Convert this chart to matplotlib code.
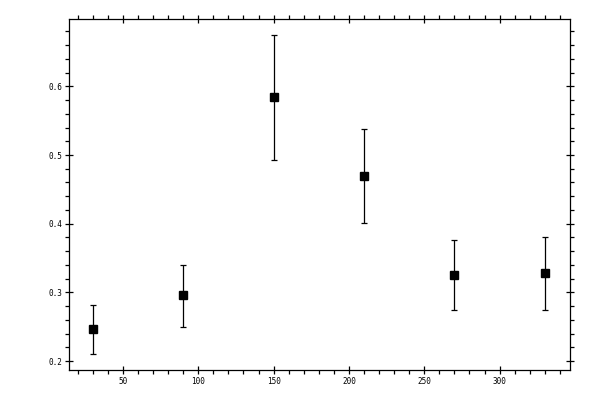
import matplotlib as mpl
mpl.use("Agg")
import matplotlib.pyplot as plt
from matplotlib.ticker import MultipleLocator

# values
x_vals = [30, 90, 150, 210, 270, 330]
y_vals = [0.246, 0.296, 0.584, 0.469, 0.325, 0.328]
y_top = [0.281, 0.340, 0.675, 0.538, 0.376, 0.380]
y_bot = [0.211, 0.249, 0.493, 0.401, 0.274, 0.275]

err_lo = [y - b for y, b in zip(y_vals, y_bot)]
err_hi = [t - y for y, t in zip(y_vals, y_top)]

plt.rcParams.update({
    "font.family": ["DejaVu Sans Mono"],
    "font.size": 5.5,
    "axes.linewidth": 0.9,
})

fig = plt.figure(figsize=(6, 4), dpi=100)
ax = fig.add_axes([69 / 600, 1 - 370 / 400, (570 - 69) / 600, (370 - 19) / 400])

ax.errorbar(x_vals, y_vals, yerr=[err_lo, err_hi], fmt="s", color="black",
            ms=5.2, elinewidth=0.9, capsize=2, capthick=0.9)

ax.set_xlim(14.2, 346.7)
ax.set_ylim(0.187, 0.698)
ax.xaxis.set_major_locator(MultipleLocator(50))
ax.xaxis.set_minor_locator(MultipleLocator(10))
ax.yaxis.set_major_locator(MultipleLocator(0.1))
ax.yaxis.set_minor_locator(MultipleLocator(0.02))
ax.xaxis.set_major_formatter(lambda v, p: f"{v:g}")
ax.yaxis.set_major_formatter(lambda v, p: f"{v:.1f}")

ax.tick_params(which="major", direction="inout", length=6.2, width=0.9,
               top=True, right=True, pad=2)
ax.tick_params(which="minor", direction="out", length=2.8, width=0.9,
               top=True, right=True)
ax.tick_params(labeltop=False, labelright=False)

fig.savefig("out.png", dpi=100)
